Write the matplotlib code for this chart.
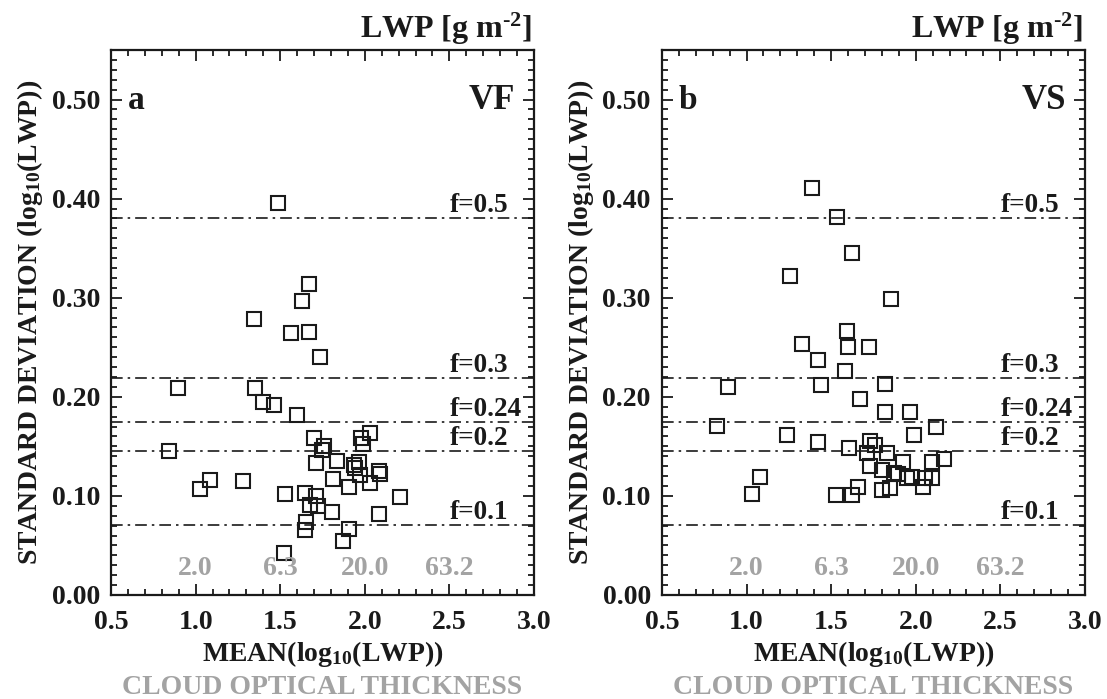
import numpy as np
import matplotlib
matplotlib.use("Agg")
import matplotlib.pyplot as plt
from matplotlib.ticker import MultipleLocator

plt.rcParams["font.family"] = ["Liberation Serif", "DejaVu Serif"]
plt.rcParams["font.weight"] = "bold"
plt.rcParams["axes.labelweight"] = "bold"
plt.rcParams["mathtext.fontset"] = "custom"
plt.rcParams["mathtext.rm"] = "Liberation Serif:bold"
plt.rcParams["mathtext.it"] = "Liberation Serif:bold"
plt.rcParams["mathtext.bf"] = "Liberation Serif:bold"
plt.rcParams["mathtext.default"] = "rm"

# Panel a (VF): mean(log10 LWP), std(log10 LWP)
vf_mean = [1.49, 1.668, 1.631, 1.344, 1.566, 1.672, 1.736, 0.893, 1.354, 1.401,
           1.466, 1.599, 1.698, 1.758, 1.746, 1.978, 2.031, 1.991, 0.844, 1.709,
           1.836, 1.934, 1.968, 1.940, 1.972, 2.085, 2.089, 1.811, 2.032, 1.909,
           1.085, 1.028, 1.278, 1.531, 1.644, 1.709, 1.674, 1.722, 2.209, 1.809,
           2.085, 1.650, 1.648, 1.909, 1.874, 1.521]
vf_std = [0.396, 0.314, 0.297, 0.279, 0.264, 0.265, 0.240, 0.209, 0.209, 0.195,
          0.192, 0.182, 0.158, 0.150, 0.146, 0.158, 0.1635, 0.152, 0.1457, 0.1333,
          0.1353, 0.1313, 0.1347, 0.128, 0.1206, 0.125, 0.1216, 0.1172, 0.1132, 0.1089,
          0.1159, 0.1072, 0.1153, 0.1022, 0.1025, 0.0998, 0.0908, 0.0901, 0.0992, 0.0834,
          0.0821, 0.0737, 0.0653, 0.067, 0.0543, 0.0422]

# Panel b (VS)
vs_mean = [1.388, 1.536, 1.625, 1.258, 1.855, 1.593, 1.329, 1.597, 1.722, 1.420,
           1.582, 0.890, 1.442, 1.816, 1.670, 1.820, 1.968, 0.827, 2.119, 1.241,
           1.989, 1.420, 1.605, 1.729, 1.759, 1.713, 1.830, 1.926, 2.096, 2.167,
           1.731, 1.800, 1.869, 1.893, 1.946, 1.976, 2.054, 2.096, 2.043, 1.081,
           1.034, 1.528, 1.623, 1.660, 1.802, 1.847]
vs_std = [0.411, 0.381, 0.345, 0.322, 0.2985, 0.2667, 0.2536, 0.250, 0.250, 0.2375,
          0.2258, 0.2097, 0.212, 0.2128, 0.198, 0.185, 0.185, 0.1709, 0.1695, 0.1618,
          0.1618, 0.1548, 0.148, 0.1558, 0.1518, 0.1437, 0.143, 0.1347, 0.134, 0.137,
          0.130, 0.126, 0.1233, 0.1216, 0.1179, 0.1186, 0.1183, 0.1179, 0.1089, 0.1189,
          0.1018, 0.1008, 0.1008, 0.1089, 0.1062, 0.1079]

# Referanselinjer for f
f_labels = ["f=0.5", "f=0.3", "f=0.24", "f=0.2", "f=0.1"]
f_levels = [0.38, 0.219, 0.175, 0.145, 0.071]

# Optisk tykkelse ved x-posisjoner
tau_pos = [1.0, 1.5, 2.0, 2.5]
tau_labels = ["2.0", "6.3", "20.0", "63.2"]

gray = "#a3a3a3"
ink = "#1a1a1a"

fig = plt.figure(figsize=(11.07, 6.99), dpi=100)

panels = [
    (0.1003, vf_mean, vf_std, "a", "VF"),
    (0.598, vs_mean, vs_std, "b", "VS"),
]

for left, xm, ys, letter, name in panels:
    ax = fig.add_axes([left, 0.1488, 0.382, 0.7797])
    ax.plot(xm, ys, linestyle="none", marker="s", markersize=10,
            markerfacecolor="none", markeredgecolor=ink,
            markeredgewidth=1.5)

    for lab, lev in zip(f_labels, f_levels):
        ax.axhline(lev, color=ink, linewidth=1.2, dashes=(7, 3, 1.5, 3))
        ax.text(2.5, lev + 0.006, lab, fontsize=19.5, ha="left",
                va="baseline", color=ink)

    for xp, tl in zip(tau_pos, tau_labels):
        ax.text(xp, 0.027, tl, fontsize=20, ha="center", va="center",
                color=gray)

    ax.text(0.6, 0.499, letter, fontsize=24, ha="left", va="center", color=ink)
    ax.text(2.89, 0.499, name, fontsize=25, ha="right", va="center", color=ink)

    ax.set_xlim(0.5, 3.0)
    ax.set_ylim(0.0, 0.55)
    ax.xaxis.set_minor_locator(MultipleLocator(0.1))
    ax.yaxis.set_minor_locator(MultipleLocator(0.01))
    ax.set_yticks([0.0, 0.1, 0.2, 0.3, 0.4, 0.5])
    ax.set_yticklabels(["0.00", "0.10", "0.20", "0.30", "0.40", "0.50"])
    ax.set_xticks([0.5, 1.0, 1.5, 2.0, 2.5, 3.0])
    ax.set_xticklabels(["0.5", "1.0", "1.5", "2.0", "2.5", "3.0"])
    ax.tick_params(which="both", direction="in", top=True, right=True,
                   width=1.3, color=ink, labelcolor=ink)
    ax.tick_params(which="major", length=8, labelsize=20, pad=8)
    ax.tick_params(axis="x", which="major", pad=11)
    ax.tick_params(which="minor", length=4)
    for sp in ax.spines.values():
        sp.set_linewidth(1.6)
        sp.set_color(ink)

    ax.set_xlabel(r"MEAN(log$_{10}$(LWP))", fontsize=20, labelpad=3,
                  color=ink)
    ax.set_ylabel(r"STANDARD DEVIATION (log$_{10}$(LWP))", fontsize=20,
                  labelpad=5, color=ink)
    ax.text(0.5, -0.17, "CLOUD OPTICAL THICKNESS", transform=ax.transAxes,
            fontsize=20, ha="center", va="center", color=gray)
    ax.text(0.997, 1.022, r"LWP [g m$^{\text{-}2}$]", transform=ax.transAxes,
            fontsize=23, ha="right", va="baseline", color=ink)

fig.savefig("out.png", dpi=100)
